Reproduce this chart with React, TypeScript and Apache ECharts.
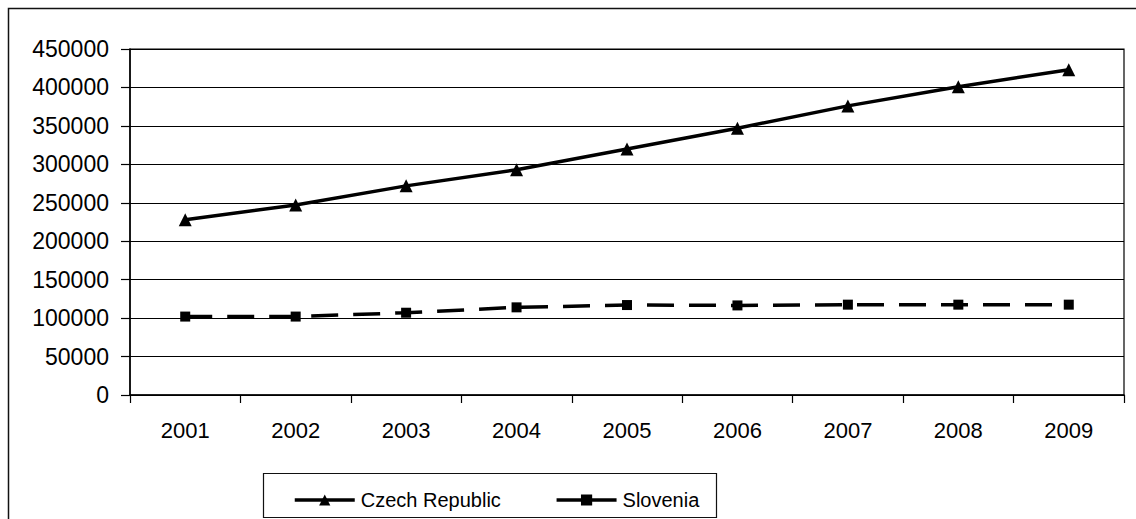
import React, { useEffect, useRef } from "react";
import * as echarts from "echarts";

const years = ["2001", "2002", "2003", "2004", "2005", "2006", "2007", "2008", "2009"];
const czechRepublic = [228000, 247000, 272000, 293000, 320000, 347000, 376000, 401000, 423000];
const slovenia = [102000, 102000, 107000, 114000, 117000, 116500, 117500, 117500, 117500];
const seriesNames = ["Czech Republic", "Slovenia"];

export default function App() {
  const ref = useRef<HTMLDivElement>(null);
  useEffect(() => {
    if (!ref.current) return;
    const chart = echarts.init(ref.current, undefined, { renderer: "svg" });
    const font = "'Liberation Sans', Arial, sans-serif";
    chart.setOption({
      animation: false,
      backgroundColor: "#fff",
      graphic: [
        {
          type: "rect",
          shape: { x: 8.5, y: 8.5, width: 2000, height: 2000 },
          style: { fill: "none", stroke: "#111", lineWidth: 1.5 },
          silent: true,
        },
        {
          type: "rect",
          shape: { x: 263.5, y: 473.5, width: 453, height: 44 },
          style: { fill: "none", stroke: "#111", lineWidth: 1.2 },
          silent: true,
        },
      ],
      grid: {
        left: 130,
        top: 49,
        right: 12,
        bottom: 124,
        show: true,
        borderColor: "#000",
        borderWidth: 1.2,
        containLabel: false,
      },
      legend: {
        left: 293,
        top: 490,
        padding: 0,
        itemWidth: 60,
        itemHeight: 14,
        itemGap: 54,
        textStyle: { fontFamily: font, fontSize: 20, color: "#000", padding: [0, 0, 0, 1] },
        data: [
          { name: seriesNames[0], lineStyle: { type: "solid", width: 3.5 } },
          { name: seriesNames[1], lineStyle: { type: "solid", width: 3.5 } },
        ],
      },
      xAxis: {
        type: "category",
        data: years,
        boundaryGap: true,
        axisLine: { show: true, lineStyle: { color: "#000", width: 1.5 } },
        axisTick: { show: true, alignWithLabel: false, length: 8, lineStyle: { color: "#000", width: 1.2 } },
        axisLabel: { color: "#000", fontFamily: font, fontSize: 22, margin: 24 },
        splitLine: { show: false },
      },
      yAxis: {
        type: "value",
        min: 0,
        max: 450000,
        interval: 50000,
        axisLine: { show: true, lineStyle: { color: "#000", width: 1.5 } },
        axisTick: { show: true, length: 9, lineStyle: { color: "#000", width: 1.2 } },
        axisLabel: {
          color: "#000",
          fontFamily: font,
          fontSize: 23,
          margin: 21,
          formatter: (v: number) => String(v),
        },
        splitLine: { show: true, lineStyle: { color: "#000", width: 1.2 } },
      },
      series: [
        {
          name: seriesNames[0],
          type: "line",
          data: czechRepublic,
          symbol: "triangle",
          symbolSize: 13,
          itemStyle: { color: "#000" },
          lineStyle: { color: "#000", width: 3.5 },
        },
        {
          name: seriesNames[1],
          type: "line",
          data: slovenia,
          symbol: "rect",
          symbolSize: 10,
          itemStyle: { color: "#000" },
          lineStyle: { color: "#000", width: 3.5, type: [27, 15] },
        },
      ],
    });
    return () => chart.dispose();
  }, []);
  return (
    <div
      ref={ref}
      style={{ position: "fixed", left: 0, top: 0, width: 1136, height: 519, background: "#fff" }}
    />
  );
}
